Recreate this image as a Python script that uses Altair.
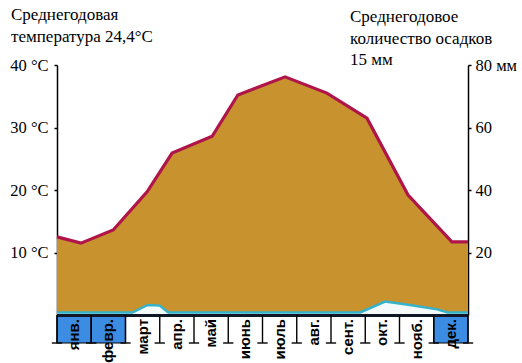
import altair as alt
import pandas as pd

# ---- data ----
months = ["янв.", "февр.", "март", "апр.", "май", "июнь",
          "июль", "авг.", "сент.", "окт.", "нояб.", "дек."]
blue_month = [True, True, False, False, False, False,
              False, False, False, False, False, True]

# temperature polyline vertices (x in months from Jan 1, value in °C)
temp_x = [0.0, 0.70, 1.64, 2.63, 3.36, 4.53, 5.28, 6.66, 7.88, 9.05, 10.25, 11.53, 12.0]
temp_c = [12.5, 11.5, 13.6, 19.7, 25.9, 28.6, 35.2, 38.1, 35.5, 31.5, 19.2, 11.7, 11.7]

# precipitation polyline vertices (x in months, value in mm)
prec_x = [0.0, 2.2, 2.65, 3.0, 3.25, 8.85, 9.58, 10.3, 11.1, 11.4, 12.0]
prec_mm = [0.8, 0.8, 3.2, 3.0, 0.8, 0.8, 4.3, 3.2, 1.8, 0.8, 0.8]

temp_ticks = [10, 20, 30, 40]
prec_ticks = [20, 40, 60, 80]

title_left = "Среднегодовая\nтемпература 24,4°C"
title_right = "Среднегодовое\nколичество осадков\n15 мм"

ORANGE = "#C8922F"
CRIMSON = "#B0154A"
CYAN = "#34B3CB"
BLUE = "#3B8CE2"
SERIF = "Liberation Serif"
SANS = "Liberation Sans"

temp_df = pd.DataFrame({"m": temp_x, "t": temp_c})
prec_df = pd.DataFrame({"m": prec_x, "p": prec_mm})
month_df = pd.DataFrame({
    "name": months,
    "start": list(range(12)),
    "end": [i + 1 for i in range(12)],
    "mid": [i + 0.5 for i in range(12)],
    "blue": blue_month,
})
bound_df = pd.DataFrame({"b": list(range(13))})
bound_df["b0"] = bound_df["b"] - 0.15
bound_df["b1"] = bound_df["b"] + 0.15
span_df = pd.DataFrame({"a": [0], "z": [len(months)]})

xs = alt.Scale(domain=[0, 12], nice=False, zero=False)

t_scale = alt.Scale(domain=[0, 40], nice=False)
p_scale = alt.Scale(domain=[0, 80], nice=False)

t_axis = alt.Axis(orient="left", values=temp_ticks, title=None,
                  labelExpr="datum.value + ' °C'", labelFlush=False,
                  labelPadding=6, tickSize=3, labelFont=SERIF,
                  labelFontSize=16.5, labelColor="black")
p_axis = alt.Axis(orient="right", values=prec_ticks, title=None,
                  labelExpr="datum.value == 80 ? '80 мм' : datum.value",
                  labelFlush=False, labelPadding=4, tickSize=3,
                  labelFont=SERIF, labelFontSize=16.5, labelColor="black")

X = lambda f: alt.X(f, scale=xs, axis=None)

temp_area = alt.Chart(temp_df).mark_area(color=ORANGE, opacity=1).encode(
    x=X("m:Q"),
    y=alt.Y("t:Q", scale=t_scale, axis=t_axis),
)
temp_line = alt.Chart(temp_df).mark_line(color=CRIMSON, strokeWidth=3.2).encode(
    x=X("m:Q"),
    y=alt.Y("t:Q", scale=t_scale, axis=t_axis),
)

prec_area = alt.Chart(prec_df).mark_area(color="#F4FAFA", opacity=1).encode(
    x=X("m:Q"),
    y=alt.Y("p:Q", scale=p_scale, axis=p_axis),
)
prec_line = alt.Chart(prec_df).mark_line(color=CYAN, strokeWidth=2.5).encode(
    x=X("m:Q"),
    y=alt.Y("p:Q", scale=p_scale, axis=p_axis),
)

cells = alt.Chart(month_df).transform_filter("datum.blue").mark_rect(
    fill=BLUE, stroke="black", strokeWidth=1.2).encode(
    x=X("start:Q"), x2="end:Q",
    y=alt.value(251), y2=alt.value(278),
)
baseline = alt.Chart(span_df).mark_rule(color="#101828", strokeWidth=3).encode(
    x=X("a:Q"), x2="z:Q",
    y=alt.value(250.5),
)
dividers = alt.Chart(bound_df).mark_rule(color="black", strokeWidth=1.4).encode(
    x=X("b:Q"),
    y=alt.value(250), y2=alt.value(278),
)
feet = alt.Chart(bound_df).mark_rule(color="black", strokeWidth=1.4).encode(
    x=X("b0:Q"), x2="b1:Q",
    y=alt.value(278),
)
labels = alt.Chart(month_df).mark_text(
    angle=270, align="right", baseline="middle", font=SANS,
    fontSize=15, fontWeight="bold", color="black").encode(
    x=X("mid:Q"),
    y=alt.value(254),
    text="name:N",
)

one = pd.DataFrame({"k": [0]})
tl = alt.Chart(one).mark_text(text=title_left, lineBreak="\n", align="left",
                             baseline="alphabetic", font=SERIF, fontSize=17,
                             lineHeight=22, color="black").encode(
    x=alt.value(-46), y=alt.value(-45))
tr = alt.Chart(one).mark_text(text=title_right, lineBreak="\n", align="left",
                             baseline="alphabetic", font=SERIF, fontSize=17,
                             lineHeight=21.5, color="black").encode(
    x=alt.value(293), y=alt.value(-43))

left_group = alt.layer(temp_area, temp_line)
right_group = alt.layer(prec_area, prec_line, cells, baseline, dividers, feet,
                        labels, tl, tr)

chart = alt.layer(left_group, right_group).resolve_scale(
    y="independent").properties(
    width=411, height=250,
    autosize=alt.AutoSizeParams(type="none"),
    padding={"left": 57, "top": 65, "right": 54, "bottom": 48},
).configure(background="white").configure_view(stroke=None).configure_axis(
    labelFont=SERIF, labelFontSize=16, labelColor="black",
    domainColor="black", tickColor="black", domainWidth=1.5, tickWidth=1.5,
    grid=False,
)

chart.save("out.html", embed_options={"renderer": "svg", "actions": False})
